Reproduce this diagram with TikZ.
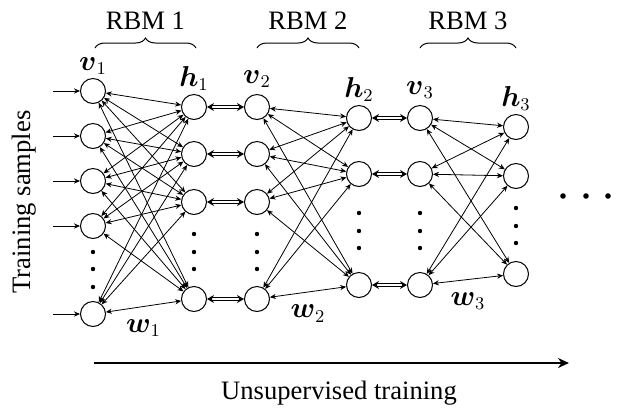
\documentclass[tikz,border=0pt]{standalone}
\usepackage{amsmath}
\usepackage{amssymb}
\usepackage{fontspec}
\setmainfont{Liberation Serif}
\usepackage{tikz}
\usetikzlibrary{arrows.meta, positioning, calc, decorations.pathreplacing}

\begin{document}
\begin{tikzpicture}[x=0.5pt, y=-0.5pt, >={Stealth[length=3pt, width=2.6pt]},
        font=\fontsize{13.3}{15}\selectfont,
        unit/.style={circle, draw, line width=0.5pt, minimum size=12.5pt, inner sep=0pt},
        every label/.style={inner sep=1.5pt},
        link/.style={<->, line width=0.4pt},
        couple/.style={{Stealth[length=3.5pt, width=4pt]}-{Stealth[length=3.5pt, width=4pt]}, double, double distance=1pt, line width=0.5pt},
        feed/.style={->, line width=0.5pt},
        curly/.style={decorate, decoration={brace, amplitude=5pt}, line width=0.5pt},
        progress/.style={-{Stealth[length=5.5pt, width=5pt]}, line width=1pt} % Flecha gruesa inferior
    ]
        \useasboundingbox (0,0) rectangle (618,409);

        % --- Capa visible v1 ---
        \node[unit, label={above:$\boldsymbol{v}_1$}] (v1-1) at (93, 91) {};
        \node[unit] (v1-2) at (93, 136) {};
        \node[unit] (v1-3) at (93, 181) {};
        \node[unit] (v1-4) at (93, 226) {};
        \node[unit] (v1-5) at (93, 314) {};

        % --- Capa oculta h1 ---
        \node[unit, label={above:$\boldsymbol{h}_1$}] (h1-1) at (194, 107) {};
        \node[unit] (h1-2) at (194, 154) {};
        \node[unit] (h1-3) at (194, 202) {};
        \node[unit] (h1-4) at (194, 299) {};

        % --- Capa visible v2 ---
        \node[unit, label={[label distance=1.5pt]above:$\boldsymbol{v}_2$}] (v2-1) at (257, 107) {};
        \node[unit] (v2-2) at (257, 154) {};
        \node[unit] (v2-3) at (257, 202) {};
        \node[unit] (v2-4) at (257, 299) {};

        % --- Capa oculta h2 ---
        \node[unit, label={above:$\boldsymbol{h}_2$}] (h2-1) at (359, 118) {};
        \node[unit] (h2-2) at (359, 174) {};
        \node[unit] (h2-3) at (359, 285) {};

        % --- Capa visible v3 ---
        \node[unit, label={[label distance=1.5pt]above:$\boldsymbol{v}_3$}] (v3-1) at (420, 118) {};
        \node[unit] (v3-2) at (420, 174) {};
        \node[unit] (v3-3) at (420, 285) {};

        % --- Capa oculta h3 ---
        \node[unit, label={above:$\boldsymbol{h}_3$}] (h3-1) at (516, 127) {};
        \node[unit] (h3-2) at (516, 176) {};
        \node[unit] (h3-3) at (516, 274) {};

        % --- Puntos suspensivos ---
        \foreach \x/\y in {93/252, 93/269, 93/287, 194/234, 194/252, 194/269, 257/234, 257/252, 257/269,
                359/213, 359/231, 359/248, 420/213, 420/231, 420/248, 516/208, 516/226, 516/243}
            \fill (\x, \y) circle (2.2);
        \fill (563, 196) circle (2.8);
        \fill (586, 196) circle (2.8);
        \fill (608, 196) circle (2.8);

        % ================= CONEXIONES =================

        % RBM 1
        \foreach \i in {1,...,5}
            \foreach \j in {1,...,4}
                \draw[link] (v1-\i) -- (h1-\j);
        \draw[draw=none] (v1-5) -- (h1-4) node[midway, below=3pt] (w1) {$\boldsymbol{w}_1$};

        % RBM 2
        \foreach \i in {1,...,4}
            \foreach \j in {1,...,3}
                \draw[link] (v2-\i) -- (h2-\j);
        \draw[draw=none] (v2-4) -- (h2-3) node[midway, below=3pt] (w2) {$\boldsymbol{w}_2$};

        % RBM 3
        \foreach \i in {1,...,3}
            \foreach \j in {1,...,3}
                \draw[link] (v3-\i) -- (h3-\j);
        \draw[draw=none] (v3-3) -- (h3-3) node[midway, below=3pt] (w3) {$\boldsymbol{w}_3$};

        % Apilamiento h -> v
        \foreach \i in {1,...,4}
            \draw[couple] (h1-\i) -- (v2-\i);
        \foreach \i in {1,...,3}
            \draw[couple] (h2-\i) -- (v3-\i);

        % --- Entradas ---
        \foreach \i in {1,...,5} {
            \coordinate (in-\i) at ($(v1-\i)+(-40,0)$);
            \draw[feed] (in-\i) -- (v1-\i);
        }
        \node[rotate=90] (samples) at (24, 202) {Training samples};

        % --- Llaves RBM ---
        \draw[curly] (95, 48) -- (196, 48) node[midway, above=5.5pt] (rbm1) {RBM 1};
        \draw[curly] (257, 48) -- (359, 48) node[midway, above=5.5pt] (rbm2) {RBM 2};
        \draw[curly] (420, 48) -- (516, 48) node[midway, above=5.5pt] (rbm3) {RBM 3};

        % --- Entrenamiento no supervisado ---
        \coordinate (start) at (94, 363);
        \coordinate (end) at (569, 363);
        \draw[progress] (start) -- (end);
        \node (unsup) at (339, 393) {Unsupervised training};

    \end{tikzpicture}
\end{document}
